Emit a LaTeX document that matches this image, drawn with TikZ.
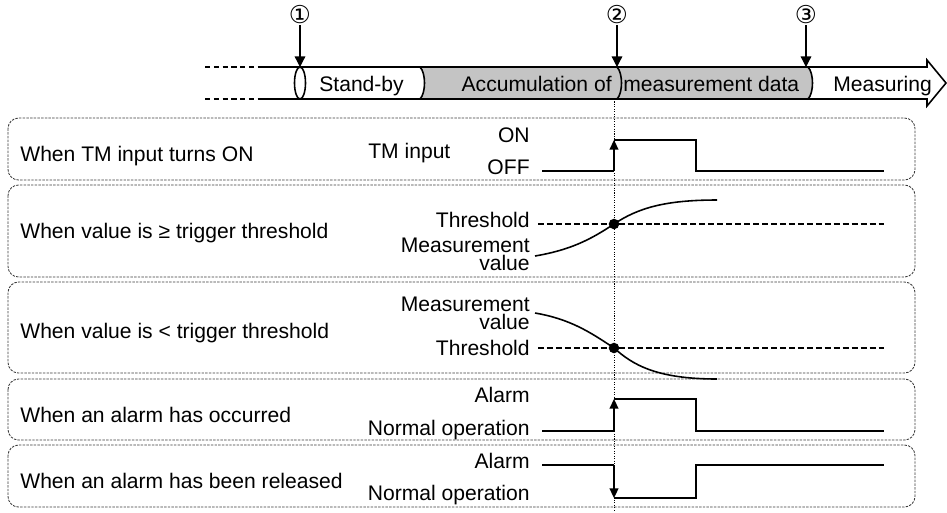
\documentclass[tikz,border=0pt]{standalone}
\usepackage{fontspec}
\setmainfont{Liberation Sans}
\newfontfamily\symfont{DejaVu Sans}
\usepackage{tikz}
\usetikzlibrary{arrows.meta,positioning}
\definecolor{bandgray}{RGB}{196,196,196}
\definecolor{panelgray}{RGB}{60,60,60}

\begin{document}
\begin{tikzpicture}[x=0.02cm, y=-0.02cm,
    txt/.style={font=\fontsize{12}{10.2}\selectfont, inner sep=0pt},
    rtxt/.style={txt, anchor=base east, align=right},
    ltxt/.style={txt, anchor=base west},
    stepnum/.style={font=\symfont\fontsize{14}{15}\selectfont, inner sep=0.5pt},
    panel/.style={draw=panelgray, line width=0.5pt, dash pattern=on 1.4pt off 0.7pt, rounded corners=6pt},
    sig/.style={line width=1pt},
    thr/.style={line width=1pt, dash pattern=on 3.4pt off 1.7pt},
    tip/.style={-{Triangle[length=5.5pt,width=5pt]}}]
    \useasboundingbox (0,0) rectangle (947,512);

    % time band
    \fill[bandgray] (420,67) -- (808,67) .. controls (814,73) and (814,93) .. (808,99)
      -- (420,99) .. controls (426,93) and (426,73) .. (420,67) -- cycle;
    \draw[line width=0.9pt, dash pattern=on 3pt off 2pt] (205,67) -- (263,67);
    \draw[line width=0.9pt, dash pattern=on 3pt off 2pt] (205,99) -- (263,99);
    \draw[line width=0.9pt, line join=miter] (263,67) -- (927,67) -- (927,60) -- (946,83)
      -- (927,106) -- (927,99) -- (263,99);
    \draw[line width=0.9pt] (420,67) .. controls (426,73) and (426,93) .. (420,99);
    \draw[line width=0.9pt] (617,67) .. controls (623,73) and (623,93) .. (617,99);
    \draw[line width=0.9pt] (808,67) .. controls (814,73) and (814,93) .. (808,99);
    \draw[line width=0.9pt, fill=white] (300,83) ellipse [x radius=0.11cm, y radius=0.32cm];

    \node[ltxt] (standby) at (319,91) {Stand-by};
    \node[rtxt] (accum) at (612,91) {Accumulation of};
    \node[ltxt] (mdata) at (623,91) {measurement data};
    \node[ltxt] (measuring) at (833,91) {Measuring};

    % markers
    \node[stepnum] (n1) at (300,15) {①};
    \node[stepnum] (n2) at (617,15) {②};
    \node[stepnum] (n3) at (806,15) {③};
    \coordinate (m1) at (300,67);
    \coordinate (m2) at (617,67);
    \coordinate (m3) at (806,67);
    \draw[line width=0.7pt, -{Triangle[length=6pt,width=6pt]}] (n1) -- (m1);
    \draw[line width=0.7pt, -{Triangle[length=6pt,width=6pt]}] (n2) -- (m2);
    \draw[line width=0.7pt, -{Triangle[length=6pt,width=6pt]}] (n3) -- (m3);

    % panels
    \draw[panel] (8,118) rectangle (915,180);
    \draw[panel] (8,185) rectangle (915,277);
    \draw[panel] (8,282) rectangle (915,373);
    \draw[panel] (8,379) rectangle (915,440);
    \draw[panel] (8,445) rectangle (915,507);

    % trigger line
    \coordinate (trigtop) at (614,99);
    \coordinate (trigbot) at (614,512);
    \draw[line width=0.4pt, dash pattern=on 0.6pt off 0.8pt] (trigtop) -- (trigbot);

    % TM input
    \node[ltxt] (case1) at (20,161) {When TM input turns ON};
    \node[ltxt] (tmin) at (368,158) {TM input};
    \node[rtxt] (on) at (530,142) {ON};
    \node[rtxt] (off) at (530,174) {OFF};
    \draw[sig] (542,171) -- (614,171);
    \draw[sig, tip] (614,171) -- (614,140);
    \draw[sig] (614,140) -- (696,140) -- (696,171) -- (884,171);

    % value rises
    \node[ltxt] (case2) at (20,238) {When value is ≥ trigger threshold};
    \node[rtxt] (thr2) at (530,227) {Threshold};
    \node[rtxt] (meas2) at (530,270) {Measurement\\value};
    \draw[thr] (538,224) -- (884,224);
    \draw[line width=0.9pt] (535,256) .. controls (570,250) and (590,240) .. (614,224)
      .. controls (638,208) and (665,200) .. (717,200);
    \fill (614,224) circle (3pt);

    % value falls
    \node[ltxt] (case3) at (20,338) {When value is < trigger threshold};
    \node[rtxt] (meas3) at (530,329) {Measurement\\value};
    \node[rtxt] (thr3) at (530,355) {Threshold};
    \draw[thr] (538,348) -- (884,348);
    \draw[line width=0.9pt] (535,313) .. controls (570,319) and (590,332) .. (614,348)
      .. controls (632,364) and (655,379) .. (717,379);
    \fill (614,348) circle (3pt);

    % alarm occurred
    \node[ltxt] (case4) at (20,422) {When an alarm has occurred};
    \node[rtxt] (alarm4) at (530,402) {Alarm};
    \node[rtxt] (norm4) at (530,435) {Normal operation};
    \draw[sig] (542,431) -- (614,431);
    \draw[sig, tip] (614,431) -- (614,399);
    \draw[sig] (614,399) -- (696,399) -- (696,431) -- (884,431);

    % alarm released
    \node[ltxt] (case5) at (20,488) {When an alarm has been released};
    \node[rtxt] (alarm5) at (530,468) {Alarm};
    \node[rtxt] (norm5) at (530,500) {Normal operation};
    \draw[sig] (542,465) -- (614,465);
    \draw[sig, tip] (614,465) -- (614,498);
    \draw[sig] (614,498) -- (696,498) -- (696,465) -- (884,465);
\end{tikzpicture}
\end{document}
